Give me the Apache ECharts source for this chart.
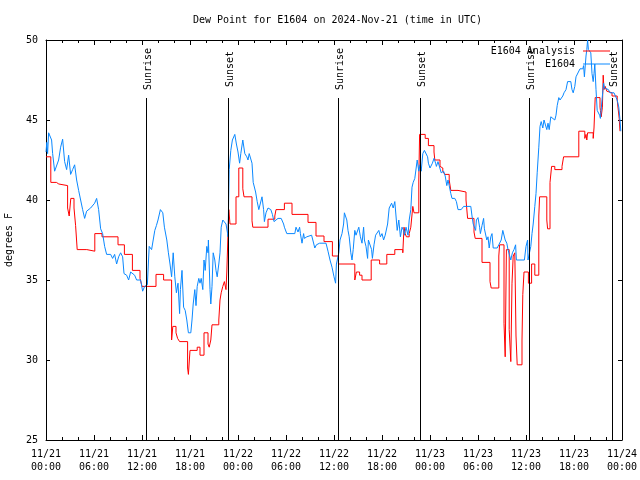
<!DOCTYPE html>
<html>
<head>
<meta charset="utf-8">
<script src="https://cdn.jsdelivr.net/npm/echarts@6/dist/echarts.min.js"></script>
<style>html,body{margin:0;padding:0;background:#fff}#c{width:640px;height:480px}</style>
</head>
<body>
<div id="c"></div>
<script>
// Hours since 2024-11-21 00:00 UTC
const tickDates = ['11/21','11/21','11/21','11/21','11/22','11/22','11/22','11/22','11/23','11/23','11/23','11/23','11/24'];
const tickTimes = ['00:00','06:00','12:00','18:00','00:00','06:00','12:00','18:00','00:00','06:00','12:00','18:00','00:00'];

const sunHours = [12.5, 22.75, 36.5, 46.75, 60.4, 70.75];
const sunNames = ['Sunrise','Sunset','Sunrise','Sunset','Sunrise','Sunset'];

const analysisHours = [0,0.6,1.3,1.6,2.7,2.9,3.1,3.5,3.7,3.9,5.1,6.1,7.0,9.0,9.8,10.8,11.75,12.0,13.75,14.7,15.7,15.85,16.25,16.45,16.7,17.7,17.8,18.0,18.9,19.25,19.75,20.25,20.4,20.6,20.75,21.6,21.75,21.9,22.1,22.3,22.5,22.6,22.75,22.85,23.0,23.75,24.1,24.6,24.75,25.75,25.85,27.75,28.6,28.75,29.8,30.75,32.75,33.75,34.75,35.8,36.55,38.6,38.8,39.2,39.5,40.65,41.7,42.6,43.6,44.6,44.75,44.9,45.05,45.4,45.6,45.85,46.0,46.6,46.7,47.4,47.8,48.5,48.6,49.25,49.4,49.6,49.85,50.4,50.6,51.5,52.5,52.7,53.5,53.65,54.5,55.5,55.65,56.6,56.7,57.25,57.4,57.55,57.9,58.1,58.25,58.4,58.6,58.75,58.9,59.5,59.6,59.75,60.3,60.7,61.1,61.6,61.7,62.6,62.7,63.0,63.2,63.6,64.5,64.7,66.6,67.35,67.5,67.6,67.7,68.4,68.5,68.65,69.25,69.3,69.4,69.55,69.65,69.75,69.9,70.1,70.25,70.75,71.4,71.65,71.75];
const analysisValues = [42.7,41.1,41.0,40.9,39.5,39.0,40.1,39.5,38.4,36.9,36.8,37.9,37.7,37.2,36.6,35.6,35.1,34.6,35.35,35.0,31.25,32.1,31.7,31.35,31.15,29.5,29.1,30.6,30.8,30.3,31.7,31.0,30.8,31.25,32.2,32.5,33.75,34.2,34.6,34.9,34.4,35.5,37.9,39.4,38.5,40.2,42.0,40.7,40.2,38.7,38.3,38.8,39.0,39.4,39.8,39.1,38.6,37.75,37.4,36.5,36.0,35.0,35.5,35.3,35.0,36.25,36.0,36.6,36.9,36.7,38.3,37.9,37.7,37.9,38.3,39.6,39.2,41.25,44.1,43.85,43.4,43.0,42.5,42.1,42.0,41.8,41.6,41.25,40.6,40.5,40.0,38.85,38.0,37.6,36.1,34.9,34.5,36.5,37.2,32.3,30.2,36.9,31.9,29.9,34.8,36.5,36.7,31.5,29.7,31.25,34.1,35.5,34.8,36.0,35.3,39.0,40.2,38.75,38.2,41.1,42.1,41.9,42.1,42.7,44.3,43.85,44.1,43.75,44.2,43.85,44.5,46.4,45.8,45.6,45.2,45.8,47.8,46.9,47.1,46.8,46.7,46.5,46.25,45.1,44.3];

const stationHours = [0.0,0.1,0.2,0.33,0.58,0.7,0.83,1.08,1.33,1.58,1.83,2.08,2.33,2.58,2.83,3.08,3.33,3.58,3.83,4.08,4.33,4.58,4.83,5.08,5.58,6.08,6.33,6.58,6.83,7.08,7.33,7.58,7.83,8.08,8.33,8.58,8.83,9.08,9.33,9.58,9.75,10.08,10.33,10.58,10.83,11.08,11.33,11.83,12.08,12.33,12.67,12.8,12.9,13.2,13.4,13.6,13.8,14.0,14.3,14.6,14.8,15.1,15.3,15.5,15.7,15.9,16.1,16.3,16.5,16.7,16.8,17.0,17.2,17.4,17.6,17.8,18.1,18.25,18.4,18.6,18.75,18.9,19.1,19.25,19.4,19.6,19.75,19.9,20.1,20.25,20.3,20.5,20.6,20.75,20.9,21.1,21.25,21.4,21.6,21.75,21.9,22.1,22.3,22.5,22.7,22.75,22.9,23.1,23.3,23.6,23.8,24.0,24.2,24.35,24.6,24.85,25.1,25.25,25.4,25.6,25.75,25.9,26.2,26.4,26.6,26.8,27.0,27.2,27.3,27.5,27.75,28.1,28.3,28.5,28.75,29.0,29.4,29.7,29.8,30.1,31.1,31.25,31.5,31.7,31.8,32.0,32.2,32.3,32.6,32.8,33.2,33.3,33.6,33.8,34.2,35.0,35.25,35.5,35.75,36.0,36.2,36.3,36.6,36.75,37.0,37.2,37.3,37.6,37.75,37.9,38.1,38.25,38.4,38.6,38.75,38.9,39.1,39.3,39.5,39.7,39.8,40.0,40.2,40.3,40.5,40.7,40.8,41.0,41.2,41.4,41.6,41.8,42.0,42.2,42.4,42.7,42.9,43.2,43.4,43.6,43.75,43.9,44.1,44.3,44.5,44.7,44.8,45.0,45.25,45.4,45.6,45.75,45.9,46.1,46.25,46.4,46.6,46.75,46.9,47.1,47.3,47.5,47.7,47.8,48.0,48.2,48.3,48.5,48.7,48.8,49.0,49.25,49.4,49.7,49.9,50.1,50.25,50.4,50.6,50.75,51.1,51.3,51.5,51.9,52.2,53.1,53.25,53.4,53.7,53.8,54.0,54.2,54.3,54.5,54.7,54.8,55.1,55.25,55.4,55.6,55.75,55.9,56.4,56.6,56.9,57.1,57.25,57.4,57.6,57.75,58.1,58.3,58.5,58.7,58.8,59.8,60.0,60.2,60.25,60.4,60.6,60.75,60.9,61.1,61.25,61.4,61.6,61.75,61.9,62.1,62.25,62.4,62.6,62.75,62.9,63.1,63.3,63.6,63.75,63.9,64.1,64.25,64.4,64.6,64.75,65.0,65.2,65.3,65.6,65.75,65.9,66.1,66.25,66.5,66.75,66.9,67.1,67.2,67.3,67.5,67.6,67.7,67.8,68.0,68.1,68.25,68.4,68.5,68.6,68.75,68.9,69.2,69.3,69.5,69.7,69.8,70.0,70.3,70.5,71.0,71.25,71.4,71.6,71.75,71.85];
const stationValues = [43.0,43.6,42.9,44.2,44.2,43.75,42.9,41.8,41.9,42.5,43.3,43.8,42.4,41.9,42.8,41.6,41.9,42.2,41.25,40.6,40.0,39.4,38.85,39.3,39.5,39.8,40.1,39.4,38.2,37.9,37.1,36.6,36.5,36.6,36.35,36.6,36.0,36.45,36.7,36.45,35.4,35.3,35.0,35.5,35.4,35.3,35.0,35.0,34.3,34.6,34.7,34.8,37.1,36.9,37.5,38.1,38.4,38.75,39.4,39.2,38.3,37.5,36.7,36.0,35.2,36.7,35.2,34.2,34.8,32.9,34.4,35.6,33.3,33.1,32.5,31.7,31.7,32.5,33.5,34.4,33.4,34.6,35.1,34.8,35.1,34.4,36.25,35.6,37.1,36.7,37.5,34.4,33.5,34.6,36.7,36.25,35.6,35.2,36.0,36.7,38.3,38.75,38.85,38.5,37.9,37.7,41.9,43.1,43.75,44.1,43.5,43.0,42.3,42.9,43.75,42.9,42.7,42.5,42.9,43.0,42.3,41.1,40.5,39.9,39.4,39.5,40.2,39.4,38.65,39.2,39.5,39.4,39.1,38.65,38.65,38.85,38.85,38.5,38.3,37.9,37.9,38.3,38.0,38.3,37.9,37.3,37.9,37.6,37.7,37.7,37.8,37.9,37.0,37.2,37.3,37.3,36.8,36.25,35.8,35.2,34.8,36.0,36.7,37.5,37.9,38.5,39.2,38.75,38.1,37.7,36.7,36.25,36.9,38.1,37.8,37.7,38.3,37.7,37.3,38.3,37.5,37.1,36.35,37.5,37.6,36.9,36.35,37.2,37.8,37.7,38.1,37.7,37.9,37.5,37.8,38.5,39.5,39.8,39.5,39.9,39.0,38.1,38.75,37.7,38.3,38.1,37.8,38.3,37.8,38.75,39.4,40.8,41.1,41.35,41.25,42.5,41.8,42.2,41.8,42.9,43.1,43.1,42.7,42.3,42.0,41.9,42.3,42.6,42.3,42.1,42.4,42.5,41.7,41.8,41.5,40.9,41.25,40.9,40.4,40.1,40.1,39.9,39.4,39.4,39.6,39.6,39.0,38.5,38.1,38.75,38.9,38.3,37.9,38.4,38.85,38.2,37.5,37.7,37.0,37.7,37.9,37.0,37.0,37.2,37.5,38.1,38.2,37.5,37.3,36.9,36.25,36.7,36.9,37.2,36.25,36.25,37.1,37.5,36.25,36.25,37.1,37.9,38.5,39.6,40.4,41.7,43.3,44.6,44.9,44.5,45.0,45.1,44.4,44.8,44.4,45.2,45.1,45.0,45.3,45.9,46.4,46.25,46.15,46.5,46.7,46.9,47.4,47.5,47.4,46.9,46.7,47.1,47.7,47.8,48.2,48.3,48.2,48.4,47.7,49.0,49.4,50.0,49.4,49.4,49.2,47.9,47.4,47.9,48.5,46.9,45.6,45.3,45.1,46.25,47.3,47.0,46.9,46.9,46.7,46.7,46.6,46.25,45.8,45.0,44.3];

const FONT = 'DejaVu Sans Mono';
const RED = '#ff0000';
const BLUE = '#0a88ff';

const analysisData = analysisHours.map((h, i) => [h, analysisValues[i]]);
const stationData = stationHours.map((h, i) => [h, stationValues[i]]);

const LABEL_BOTTOM = 46.375; // value where the sun line stops and its label begins
const sunLines = [];
sunHours.forEach((h, i) => {
  sunLines.push([
    { coord: [h, 25], lineStyle: { color: '#000', width: 1, type: 'solid' }, label: { show: false } },
    { coord: [h, LABEL_BOTTOM] }
  ]);
  sunLines.push([
    { name: sunNames[i], coord: [h, LABEL_BOTTOM], lineStyle: { color: 'rgba(0,0,0,0)', width: 1 },
      label: { show: true, position: 'insideMiddleBottom', formatter: '{b}', distance: -4,
               fontFamily: FONT, fontSize: 10, lineHeight: 12, color: '#000' } },
    { coord: [h, 50] }
  ]);
});

const chart = echarts.init(document.getElementById('c'), null, { renderer: 'canvas' });
const axisFont = { fontFamily: FONT, fontSize: 10, color: '#000' };

chart.setOption({
  animation: false,
  backgroundColor: '#fff',
  title: {
    text: 'Dew Point for E1604 on 2024-Nov-21 (time in UTC)',
    left: 188, top: 10,
    textStyle: { fontFamily: FONT, fontSize: 10, fontWeight: 'normal', color: '#000' }
  },
  legend: {
    data: ['E1604 Analysis', 'E1604'],
    orient: 'vertical', align: 'right',
    right: 30, top: 45, padding: 0,
    itemWidth: 27, itemHeight: 1, itemGap: 1,
    icon: 'rect',
    textStyle: { fontFamily: FONT, fontSize: 10, color: '#000', lineHeight: 12, padding: [0, 3, 0, 0] }
  },
  grid: { left: 46, right: 18, top: 40, bottom: 40, containLabel: false, outerBoundsMode: 'none' },
  xAxis: [
    {
      type: 'value', min: 0, max: 72, interval: 6, position: 'bottom',
      axisLine: { show: true, onZero: false, lineStyle: { color: '#000', width: 1 } },
      axisTick: { show: true, inside: true, length: 5, lineStyle: { color: '#000' } },
      minorTick: { show: true, splitNumber: 3, length: 3, lineStyle: { color: '#000' } },
      splitLine: { show: false },
      axisLabel: Object.assign({
        margin: 8, lineHeight: 13, showMinLabel: true, showMaxLabel: true,
        formatter: v => tickDates[Math.round(v / 6)] + '\n' + tickTimes[Math.round(v / 6)]
      }, axisFont)
    },
    {
      type: 'value', min: 0, max: 72, interval: 6, position: 'top',
      axisLine: { show: true, onZero: false, lineStyle: { color: '#000', width: 1 } },
      axisTick: { show: true, inside: true, length: 5, lineStyle: { color: '#000' } },
      minorTick: { show: true, splitNumber: 3, length: 3, lineStyle: { color: '#000' } },
      splitLine: { show: false },
      axisLabel: { show: false }
    }
  ],
  yAxis: [
    {
      type: 'value', min: 25, max: 50, interval: 5, position: 'left',
      name: 'degrees F', nameLocation: 'middle', nameGap: 32,
      nameTextStyle: axisFont,
      axisLine: { show: true, onZero: false, lineStyle: { color: '#000', width: 1 } },
      axisTick: { show: true, inside: true, length: 4, lineStyle: { color: '#000' } },
      splitLine: { show: false },
      axisLabel: Object.assign({ margin: 8 }, axisFont)
    },
    {
      type: 'value', min: 25, max: 50, interval: 5, position: 'right',
      axisLine: { show: true, onZero: false, lineStyle: { color: '#000', width: 1 } },
      axisTick: { show: true, inside: true, length: 4, lineStyle: { color: '#000' } },
      splitLine: { show: false },
      axisLabel: { show: false }
    }
  ],
  series: [
    {
      name: 'E1604 Analysis', type: 'line', step: 'end',
      xAxisIndex: 0, yAxisIndex: 0,
      data: analysisData, symbol: 'none', showSymbol: false,
      lineStyle: { color: RED, width: 1 }, itemStyle: { color: RED },
      markLine: {
        silent: true, symbol: ['none', 'none'], animation: false,
        data: sunLines
      }
    },
    {
      name: 'E1604', type: 'line',
      xAxisIndex: 0, yAxisIndex: 0,
      data: stationData, symbol: 'none', showSymbol: false,
      lineStyle: { color: BLUE, width: 1 }, itemStyle: { color: BLUE }
    }
  ]
});
</script>
</body>
</html>
